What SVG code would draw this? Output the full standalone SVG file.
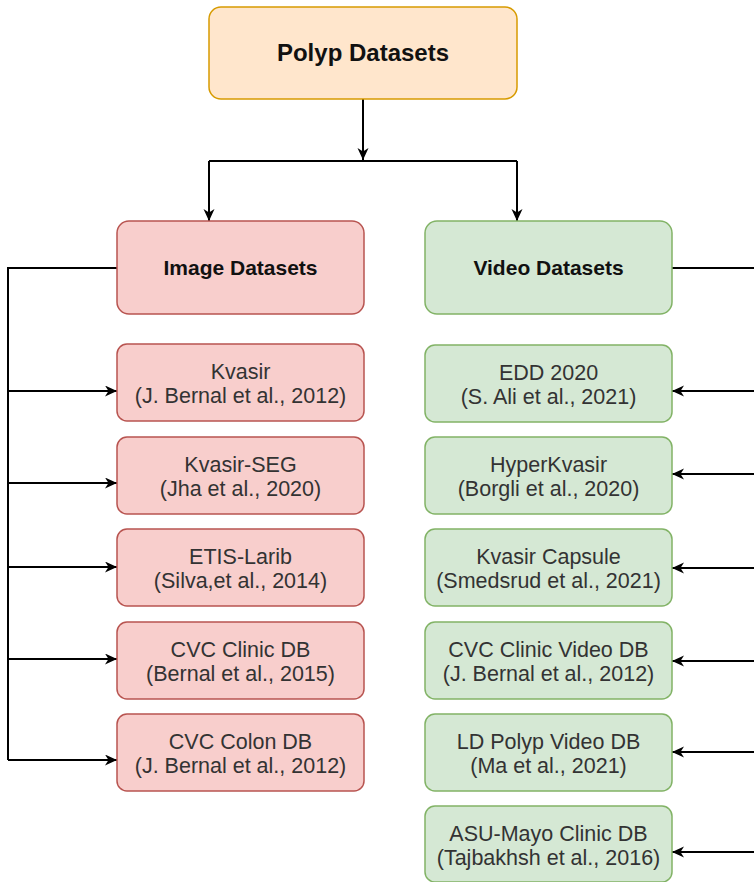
<svg xmlns="http://www.w3.org/2000/svg" width="754" height="882" viewBox="0 0 754 882">
<defs>
<marker id="arr" markerUnits="userSpaceOnUse" markerWidth="14" markerHeight="12" refX="12" refY="5.5" orient="auto">
<path d="M0,0 L12,5.5 L0,11 L3.5,5.5 Z" fill="#000"/>
</marker>
<style>
.root{fill:#ffe6cc;stroke:#d79b00;stroke-width:1.5}
.img{fill:#f8cecc;stroke:#b85450;stroke-width:1.5}
.vid{fill:#d5e8d4;stroke:#82b366;stroke-width:1.5}
.t{font-family:"Liberation Sans",Arial,sans-serif;font-size:21.5px;fill:#333;text-anchor:middle}
.b{font-family:"Liberation Sans",Arial,sans-serif;font-size:21px;font-weight:bold;fill:#111;text-anchor:middle}
.h{font-family:"Liberation Sans",Arial,sans-serif;font-size:24px;font-weight:bold;fill:#111;text-anchor:middle}
.c{fill:none;stroke:#000;stroke-width:2}
.ca{fill:none;stroke:#000;stroke-width:2;marker-end:url(#arr)}
</style>
</defs>
<rect width="754" height="882" fill="#fff"/>
<g id="connectors">
<path class="ca" d="M363,99 V160"/>
<path class="c" d="M209,161 H517"/>
<path class="ca" d="M209,161 V221"/>
<path class="ca" d="M517,161 V221"/>
<path class="c" d="M117,268 H8 V760"/>
<path class="ca" d="M8,391 H117"/>
<path class="ca" d="M8,483 H117"/>
<path class="ca" d="M8,567 H117"/>
<path class="ca" d="M8,659 H117"/>
<path class="ca" d="M8,760 H117"/>
<path class="c" d="M672,268 H758 V852"/>
<path class="ca" d="M758,391 H672"/>
<path class="ca" d="M758,474 H672"/>
<path class="ca" d="M758,568 H672"/>
<path class="ca" d="M758,661 H672"/>
<path class="ca" d="M758,752 H672"/>
<path class="ca" d="M758,852 H672"/>
</g>
<g id="polyp-datasets"><rect class="root" x="209" y="7" width="308" height="92" rx="12"/><text class="h" x="363" y="61">Polyp Datasets</text></g>
<g id="image-datasets"><rect class="img" x="117" y="221" width="247" height="93" rx="12"/><text class="b" x="240.5" y="275">Image Datasets</text></g>
<g id="video-datasets"><rect class="vid" x="425" y="221" width="247" height="93" rx="12"/><text class="b" x="548.5" y="275">Video Datasets</text></g>
<g id="kvasir"><rect class="img" x="117" y="344" width="247" height="77" rx="10"/><text class="t" x="240.5" y="379">Kvasir</text><text class="t" x="240.5" y="403">(J. Bernal et al., 2012)</text></g>
<g id="kvasir-seg"><rect class="img" x="117" y="437" width="247" height="77" rx="10"/><text class="t" x="240.5" y="472">Kvasir-SEG</text><text class="t" x="240.5" y="496">(Jha et al., 2020)</text></g>
<g id="etis-larib"><rect class="img" x="117" y="529" width="247" height="77" rx="10"/><text class="t" x="240.5" y="564">ETIS-Larib</text><text class="t" x="240.5" y="588">(Silva,et al., 2014)</text></g>
<g id="cvc-clinic-db"><rect class="img" x="117" y="622" width="247" height="77" rx="10"/><text class="t" x="240.5" y="657">CVC Clinic DB</text><text class="t" x="240.5" y="681">(Bernal et al., 2015)</text></g>
<g id="cvc-colon-db"><rect class="img" x="117" y="714" width="247" height="77" rx="10"/><text class="t" x="240.5" y="749">CVC Colon DB</text><text class="t" x="240.5" y="773">(J. Bernal et al., 2012)</text></g>
<g id="edd-2020"><rect class="vid" x="425" y="345" width="247" height="77" rx="10"/><text class="t" x="548.5" y="380">EDD 2020</text><text class="t" x="548.5" y="404">(S. Ali et al., 2021)</text></g>
<g id="hyperkvasir"><rect class="vid" x="425" y="437" width="247" height="77" rx="10"/><text class="t" x="548.5" y="472">HyperKvasir</text><text class="t" x="548.5" y="496">(Borgli et al., 2020)</text></g>
<g id="kvasir-capsule"><rect class="vid" x="425" y="529" width="247" height="77" rx="10"/><text class="t" x="548.5" y="564">Kvasir Capsule</text><text class="t" x="548.5" y="588">(Smedsrud et al., 2021)</text></g>
<g id="cvc-clinic-video-db"><rect class="vid" x="425" y="622" width="247" height="77" rx="10"/><text class="t" x="548.5" y="657">CVC Clinic Video DB</text><text class="t" x="548.5" y="681">(J. Bernal et al., 2012)</text></g>
<g id="ld-polyp-video-db"><rect class="vid" x="425" y="714" width="247" height="77" rx="10"/><text class="t" x="548.5" y="749">LD Polyp Video DB</text><text class="t" x="548.5" y="773">(Ma et al., 2021)</text></g>
<g id="asu-mayo-clinic-db"><rect class="vid" x="425" y="806" width="247" height="76" rx="10"/><text class="t" x="548.5" y="841">ASU-Mayo Clinic DB</text><text class="t" x="548.5" y="865">(Tajbakhsh et al., 2016)</text></g>
</svg>
